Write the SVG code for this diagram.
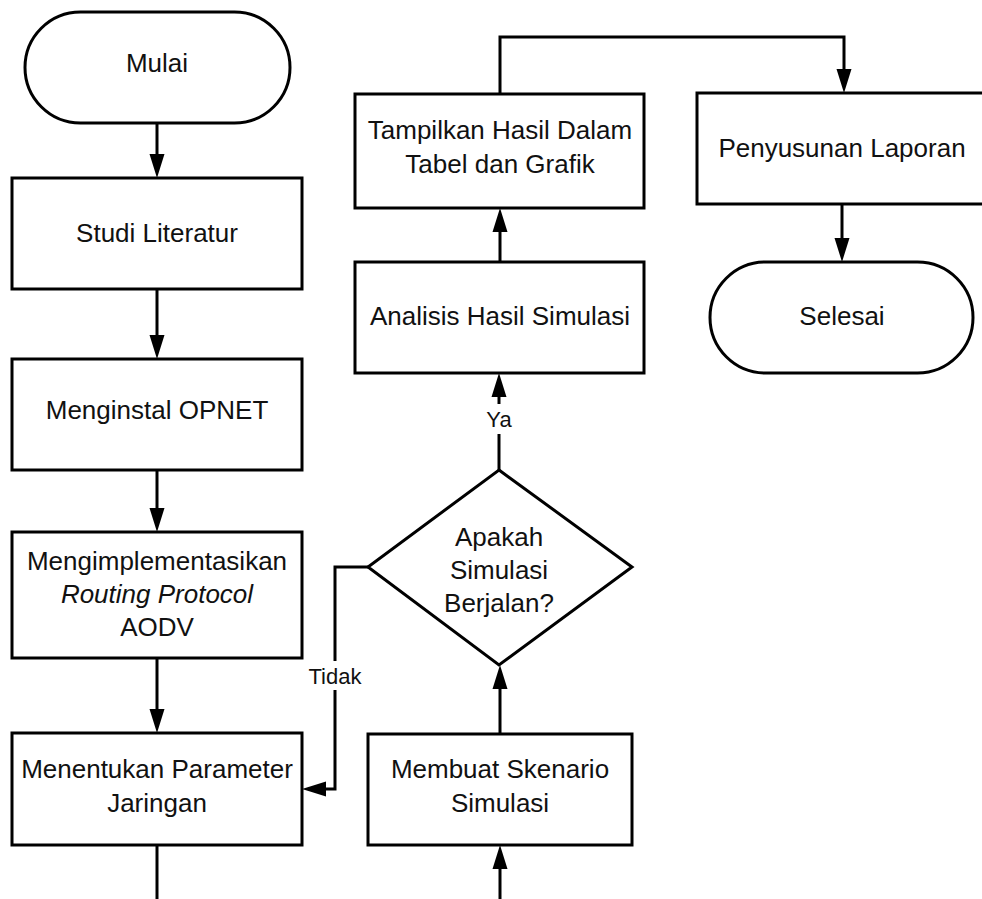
<svg xmlns="http://www.w3.org/2000/svg" width="982" height="899" viewBox="0 0 982 899">
<defs>
<style>
.n{fill:#fff;stroke:#000;stroke-width:3}
.t{font-family:"Liberation Sans",Arial,sans-serif;font-size:26px;fill:#111;text-anchor:middle}
.l{font-family:"Liberation Sans",Arial,sans-serif;font-size:22px;fill:#111;text-anchor:middle}
.c{fill:none;stroke:#000;stroke-width:3}
</style>
<marker id="ah" markerUnits="userSpaceOnUse" markerWidth="26" markerHeight="16" refX="0" refY="7.5" orient="auto" overflow="visible">
<path d="M0,0 L24,7.5 L0,15 z" fill="#000"/>
</marker>
</defs>
<rect width="982" height="899" fill="#fff"/>
<g id="connectors">
<path class="c" d="M157 123 V154" marker-end="url(#ah)"/>
<path class="c" d="M157 289 V335" marker-end="url(#ah)"/>
<path class="c" d="M157 470 V508" marker-end="url(#ah)"/>
<path class="c" d="M157 658 V709" marker-end="url(#ah)"/>
<path class="c" d="M157 845 V899"/>
<path class="c" d="M500 899 V869" marker-end="url(#ah)"/>
<path class="c" d="M500 734 V689" marker-end="url(#ah)"/>
<path class="c" d="M499 470 V397" marker-end="url(#ah)"/>
<path class="c" d="M500 262 V232" marker-end="url(#ah)"/>
<path class="c" d="M500 94 V37 H844 V69" marker-end="url(#ah)"/>
<path class="c" d="M842 204 V238" marker-end="url(#ah)"/>
<path class="c" d="M368 567 H335 V789 H326" marker-end="url(#ah)"/>
<g id="label-ya"><rect x="484" y="404" width="30" height="30" fill="#fff"/><text class="l" x="499" y="427">Ya</text></g>
<g id="label-tidak"><rect x="306" y="661" width="58" height="29" fill="#fff"/><text class="l" x="335" y="684">Tidak</text></g>
</g>
<g id="mulai"><rect class="n" x="25" y="12" width="265" height="111" rx="55.5"/><text class="t" x="157" y="72">Mulai</text></g>
<g id="studi"><rect class="n" x="12" y="178" width="290" height="111"/><text class="t" x="157" y="242">Studi Literatur</text></g>
<g id="menginstal"><rect class="n" x="12" y="359" width="290" height="111"/><text class="t" x="157" y="419">Menginstal OPNET</text></g>
<g id="implementasi"><rect class="n" x="12" y="532" width="290" height="126"/><text class="t" x="157" y="570">Mengimplementasikan</text><text class="t" x="157" y="603" font-style="italic">Routing Protocol</text><text class="t" x="157" y="636">AODV</text></g>
<g id="parameter"><rect class="n" x="12" y="733" width="290" height="112"/><text class="t" x="157" y="778">Menentukan Parameter</text><text class="t" x="157" y="812">Jaringan</text></g>
<g id="skenario"><rect class="n" x="368" y="734" width="264" height="111"/><text class="t" x="500" y="778">Membuat Skenario</text><text class="t" x="500" y="812">Simulasi</text></g>
<g id="keputusan"><polygon class="n" points="499,470 632,567 499,665 368,567"/><text class="t" x="499" y="546">Apakah</text><text class="t" x="499" y="579">Simulasi</text><text class="t" x="499" y="612">Berjalan?</text></g>
<g id="analisis"><rect class="n" x="355" y="262" width="289" height="111"/><text class="t" x="500" y="325">Analisis Hasil Simulasi</text></g>
<g id="tampilkan"><rect class="n" x="355" y="94" width="289" height="114"/><text class="t" x="500" y="139">Tampilkan Hasil Dalam</text><text class="t" x="500" y="173">Tabel dan Grafik</text></g>
<g id="penyusunan"><rect class="n" x="697" y="93" width="294" height="111"/><text class="t" x="842" y="157">Penyusunan Laporan</text></g>
<g id="selesai"><rect class="n" x="710" y="262" width="263" height="111" rx="55.5"/><text class="t" x="842" y="325">Selesai</text></g>
</svg>
